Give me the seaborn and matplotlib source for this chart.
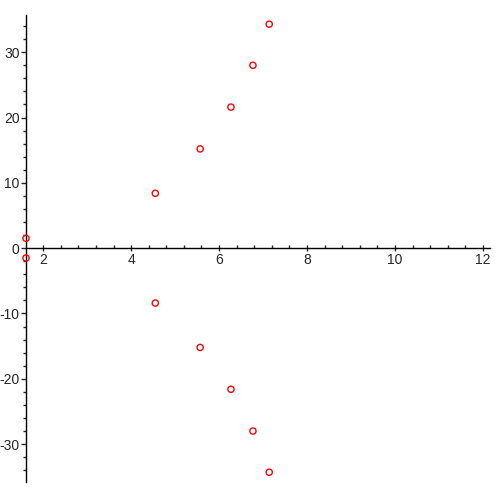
import numpy as np
import pandas as pd
import matplotlib
matplotlib.use("Agg")
import matplotlib.pyplot as plt
import seaborn as sns
from matplotlib.ticker import MultipleLocator

# points (upper branch, lower branch is mirrored)
x_vals = [1.61, 4.55, 5.57, 6.27, 6.77, 7.14]
y_upper = [1.5, 8.4, 15.2, 21.6, 28.0, 34.3]
y_lower = [-1.5, -8.4, -15.2, -21.6, -28.0, -34.3]

df = pd.DataFrame({
    "x": x_vals + x_vals,
    "y": y_upper + y_lower,
})

sns.set_style("white")
plt.rcParams["font.family"] = ["Liberation Sans", "DejaVu Sans"]
plt.rcParams["axes.unicode_minus"] = False

fig = plt.figure(figsize=(4.97, 4.97), dpi=100)
ax = fig.add_axes([26 / 497, 15 / 497, 464 / 497, 467 / 497])

sns.scatterplot(data=df, x="x", y="y", ax=ax, marker="o", s=20,
                facecolor="none", edgecolor="red", linewidth=1.0,
                legend=False, clip_on=False, zorder=3)

ax.set_xlim(1.61, 12.16)
ax.set_ylim(-35.8, 35.7)

ax.spines["top"].set_visible(False)
ax.spines["right"].set_visible(False)
ax.spines["bottom"].set_position(("data", 0))
for s in ("left", "bottom"):
    ax.spines[s].set_color("black")
    ax.spines[s].set_linewidth(1.0)

ax.xaxis.set_major_locator(MultipleLocator(2))
ax.xaxis.set_minor_locator(MultipleLocator(0.4))
ax.yaxis.set_major_locator(MultipleLocator(10))
ax.yaxis.set_minor_locator(MultipleLocator(2))

ax.tick_params(axis="x", which="major", direction="inout", length=5, width=1,
               labelsize=10, pad=1, bottom=True)
ax.tick_params(axis="x", which="minor", direction="in", length=2.5, width=1, bottom=True)
ax.tick_params(axis="y", which="major", direction="out", length=3.5, width=1,
               labelsize=10, pad=1, left=True)
ax.tick_params(axis="y", which="minor", direction="out", length=2, width=1, left=True)

ax.set_xlabel("")
ax.set_ylabel("")

fig.savefig("out.png", dpi=100)
